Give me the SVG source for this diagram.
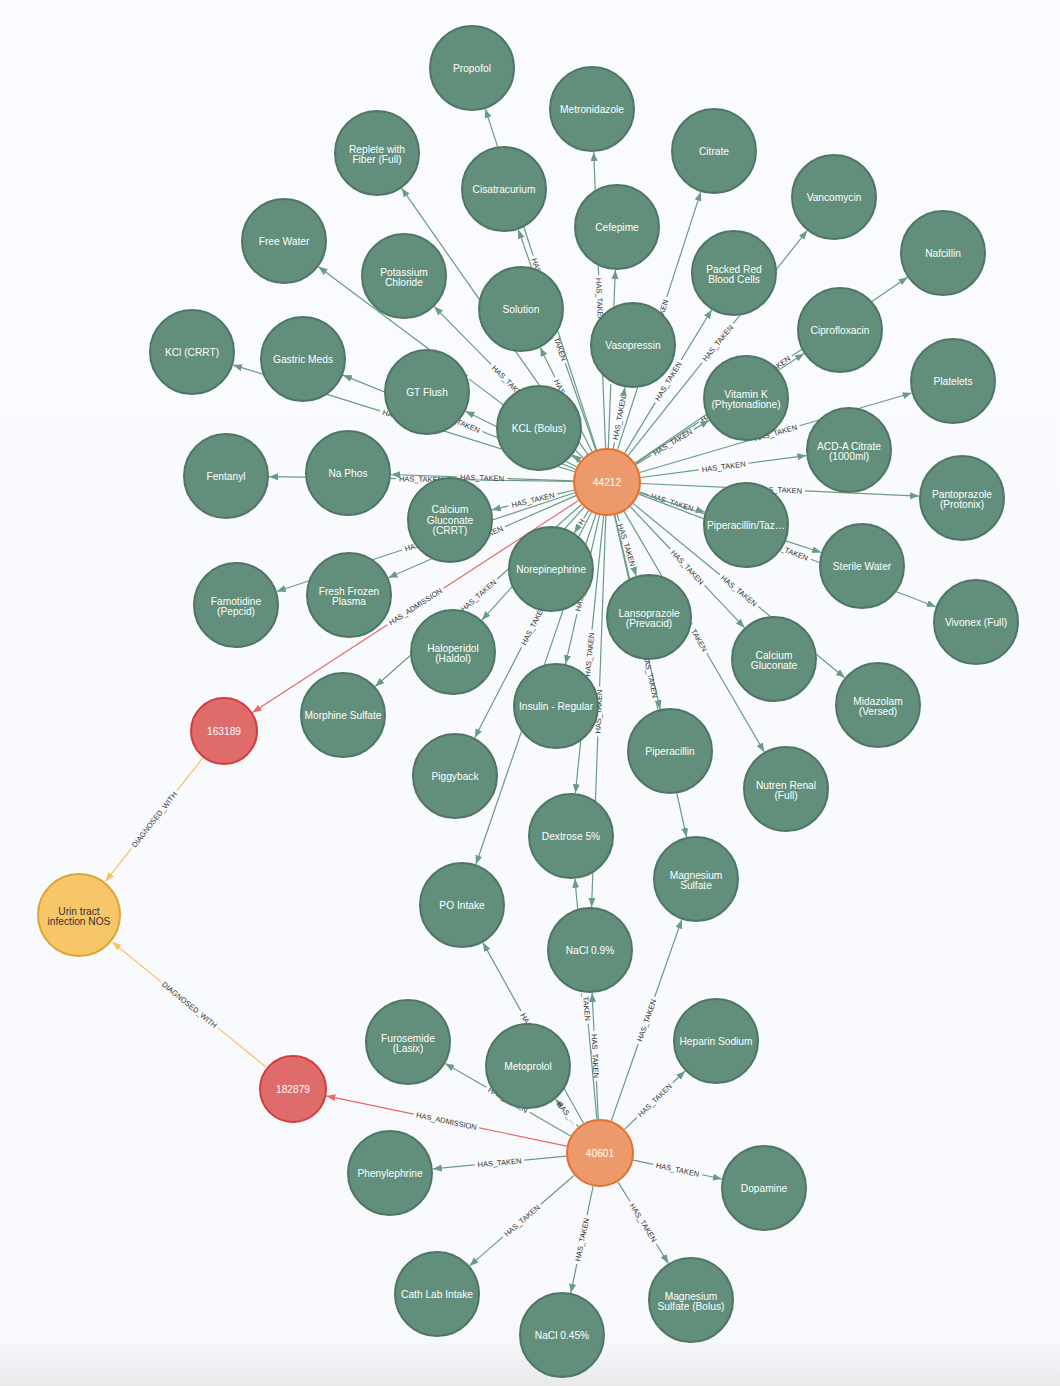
<svg xmlns="http://www.w3.org/2000/svg" width="1060" height="1386" viewBox="0 0 1060 1386">
<defs>
<linearGradient id="bg" x1="0" y1="0" x2="0" y2="1">
<stop offset="0" stop-color="#f9fbfe"/>
<stop offset="0.965" stop-color="#f8f9fc"/>
<stop offset="1" stop-color="#e8e9eb"/>
</linearGradient>
<marker id="ag" markerUnits="userSpaceOnUse" markerWidth="10" markerHeight="8" refX="9" refY="3.5" orient="auto"><path d="M0,0 L9,3.5 L0,7 z" fill="#6a9b87"/></marker>
<marker id="ar" markerUnits="userSpaceOnUse" markerWidth="10" markerHeight="8" refX="9" refY="3.5" orient="auto"><path d="M0,0 L9,3.5 L0,7 z" fill="#e56b6b"/></marker>
<marker id="ay" markerUnits="userSpaceOnUse" markerWidth="10" markerHeight="8" refX="9" refY="3.5" orient="auto"><path d="M0,0 L9,3.5 L0,7 z" fill="#f6c261"/></marker>
</defs>
<style>
.e line{stroke:#6a9b87;stroke-width:1.2;fill:none;marker-end:url(#ag)}
.e line.r{stroke:#e56b6b;marker-end:url(#ar)}
.e line.y{stroke:#f6c261;marker-end:url(#ay)}
.e text{font-family:"Liberation Sans",Arial,sans-serif;font-size:7.5px;fill:#333;text-anchor:middle}
.n circle{fill:#628f7c;stroke:#4e7566;stroke-width:2}
.n text{font-family:"Liberation Sans",Arial,sans-serif;font-size:10.2px;fill:#ffffff;text-anchor:middle}
.o circle{fill:#ec9a6b;stroke:#e1702f;stroke-width:2}
.rd circle{fill:#e06b6b;stroke:#d43c3c;stroke-width:2}
.yl circle{fill:#f7c668;stroke:#d9a735;stroke-width:2}
.yl text{fill:#333}
</style>
<rect x="0" y="0" width="1060" height="1386" fill="url(#bg)"/>
<g id="connectors" class="e">
<line x1="596.5" y1="449.7" x2="485.3" y2="108.9" stroke-dasharray="154.3 50 999"/><text transform="translate(540.9,279.3) rotate(71.9)" y="2.7">HAS_TAKEN</text>
<line x1="605.6" y1="448.0" x2="593.7" y2="152.0" stroke-dasharray="123.2 50 999"/><text transform="translate(599.7,300.0) rotate(87.7)" y="2.7">HAS_TAKEN</text>
<line x1="617.5" y1="449.6" x2="700.8" y2="191.9" stroke-dasharray="110.5 50 999"/><text transform="translate(659.1,320.8) rotate(-72.1)" y="2.7">HAS_TAKEN</text>
<line x1="628.2" y1="455.4" x2="807.2" y2="230.6" stroke-dasharray="118.7 50 999"/><text transform="translate(717.7,343.0) rotate(-51.5)" y="2.7">HAS_TAKEN</text>
<line x1="635.1" y1="462.9" x2="907.5" y2="277.2" stroke-dasharray="139.8 50 999"/><text transform="translate(771.3,370.0) rotate(-34.3)" y="2.7">HAS_TAKEN</text>
<line x1="587.5" y1="454.1" x2="401.6" y2="188.2" stroke-dasharray="137.2 50 999"/><text transform="translate(494.6,321.2) rotate(55.0)" y="2.7">HAS_TAKEN</text>
<line x1="595.7" y1="449.9" x2="518.3" y2="229.6" stroke-dasharray="91.8 50 999"/><text transform="translate(557.0,339.8) rotate(70.6)" y="2.7">HAS_TAKEN</text>
<line x1="608.3" y1="448.0" x2="615.3" y2="270.0" stroke-dasharray="64.1 50 999"/><text transform="translate(611.8,359.0) rotate(-87.8)" y="2.7">HAS_TAKEN</text>
<line x1="624.7" y1="452.9" x2="711.7" y2="309.7" stroke-dasharray="58.8 50 999"/><text transform="translate(668.2,381.3) rotate(-58.7)" y="2.7">HAS_TAKEN</text>
<line x1="579.7" y1="461.7" x2="318.5" y2="266.7" stroke-dasharray="138 50 999"/><text transform="translate(449.1,364.2) rotate(36.7)" y="2.7">HAS_TAKEN</text>
<line x1="583.1" y1="457.8" x2="434.2" y2="306.6" stroke-dasharray="81.1 50 999"/><text transform="translate(508.7,382.2) rotate(45.4)" y="2.7">HAS_TAKEN</text>
<line x1="591.9" y1="451.6" x2="540.1" y2="347.5" stroke-dasharray="33.1 50 999"/><text transform="translate(566.0,399.6) rotate(63.6)" y="2.7">HAS_TAKEN</text>
<line x1="613.3" y1="448.6" x2="625.0" y2="387.3" stroke-dasharray="6.2 50 999"/><text transform="translate(619.2,418.0) rotate(-79.3)" y="2.7">HAS_TAKEN</text>
<line x1="635.5" y1="463.4" x2="804.0" y2="353.5" stroke-dasharray="75.6 50 999"/><text transform="translate(719.8,408.5) rotate(-33.1)" y="2.7">HAS_TAKEN</text>
<line x1="639.6" y1="472.5" x2="911.7" y2="393.0" stroke-dasharray="116.7 50 999"/><text transform="translate(775.7,432.8) rotate(-16.3)" y="2.7">HAS_TAKEN</text>
<line x1="574.6" y1="471.8" x2="233.0" y2="364.9" stroke-dasharray="154 50 999"/><text transform="translate(403.8,418.4) rotate(17.4)" y="2.7">HAS_TAKEN</text>
<line x1="575.5" y1="469.2" x2="342.9" y2="375.1" stroke-dasharray="100.5 50 999"/><text transform="translate(459.2,422.2) rotate(22.0)" y="2.7">HAS_TAKEN</text>
<line x1="576.6" y1="466.8" x2="465.5" y2="411.2" stroke-dasharray="37.1 50 999"/><text transform="translate(521.0,439.0) rotate(26.6)" y="2.7">HAS_TAKEN</text>
<line x1="580.4" y1="460.8" x2="572.7" y2="454.8"/>
<line x1="636.1" y1="464.4" x2="709.2" y2="420.2" stroke-dasharray="17.7 50 999"/><text transform="translate(672.6,442.3) rotate(-31.1)" y="2.7">HAS_TAKEN</text>
<line x1="640.7" y1="477.5" x2="806.4" y2="455.6" stroke-dasharray="58.6 50 999"/><text transform="translate(723.6,466.6) rotate(-7.5)" y="2.7">HAS_TAKEN</text>
<line x1="641.0" y1="483.5" x2="919.0" y2="496.1" stroke-dasharray="114.2 50 999"/><text transform="translate(780.0,489.8) rotate(2.6)" y="2.7">HAS_TAKEN</text>
<line x1="573.0" y1="481.5" x2="269.0" y2="476.7" stroke-dasharray="127.0 50 999"/><text transform="translate(421.0,479.1) rotate(0.9)" y="2.7">HAS_TAKEN</text>
<line x1="573.0" y1="480.8" x2="391.0" y2="474.5" stroke-dasharray="66.1 50 999"/><text transform="translate(482.0,477.7) rotate(2.0)" y="2.7">HAS_TAKEN</text>
<line x1="574.0" y1="490.0" x2="491.8" y2="509.9" stroke-dasharray="17.3 50 999"/><text transform="translate(532.9,500.0) rotate(-13.6)" y="2.7">HAS_TAKEN</text>
<line x1="639.5" y1="492.0" x2="704.9" y2="512.3" stroke-dasharray="9.3 50 999"/><text transform="translate(672.2,502.2) rotate(17.2)" y="2.7">HAS_TAKEN</text>
<line x1="639.3" y1="492.6" x2="821.2" y2="552.5" stroke-dasharray="70.8 50 999"/><text transform="translate(730.2,522.6) rotate(18.2)" y="2.7">HAS_TAKEN</text>
<line x1="638.8" y1="494.1" x2="935.8" y2="606.7" stroke-dasharray="133.9 50 999"/><text transform="translate(787.3,550.4) rotate(20.8)" y="2.7">HAS_TAKEN</text>
<line x1="588.6" y1="510.6" x2="574.3" y2="532.9" stroke-dasharray="9.3 8 99"/><text transform="translate(581.5,521.8) rotate(-57.2)" y="2.7">H</text>
<line x1="574.7" y1="492.7" x2="276.8" y2="591.5" stroke-dasharray="132 50 999"/><text transform="translate(425.8,542.1) rotate(-18.3)" y="2.7">HAS_TAKEN</text>
<line x1="575.9" y1="495.6" x2="388.4" y2="577.8" stroke-dasharray="77.4 50 999"/><text transform="translate(482.1,536.7) rotate(-23.6)" y="2.7">HAS_TAKEN</text>
<line x1="617.1" y1="514.5" x2="636.2" y2="575.9" stroke-dasharray="7.2 50 999"/><text transform="translate(626.7,545.2) rotate(72.7)" y="2.7">HAS_TAKEN</text>
<line x1="630.3" y1="506.7" x2="744.5" y2="627.7" stroke-dasharray="58.2 50 999"/><text transform="translate(687.4,567.2) rotate(46.7)" y="2.7">HAS_TAKEN</text>
<line x1="633.3" y1="503.6" x2="844.8" y2="677.7" stroke-dasharray="112 50 999"/><text transform="translate(739.0,590.7) rotate(39.4)" y="2.7">HAS_TAKEN</text>
<line x1="584.2" y1="507.2" x2="481.9" y2="620.1" stroke-dasharray="51.2 50 999"/><text transform="translate(533.0,563.6) rotate(-47.8)" y="2.7">HAS_TAKEN</text>
<line x1="581.5" y1="504.5" x2="375.2" y2="686.5" stroke-dasharray="112.6 50 999"/><text transform="translate(478.4,595.5) rotate(-41.4)" y="2.7">HAS_TAKEN</text>
<line x1="599.5" y1="515.2" x2="565.5" y2="664.1" stroke-dasharray="51.4 50 999"/><text transform="translate(582.5,589.6) rotate(-77.2)" y="2.7">HAS_TAKEN</text>
<line x1="614.8" y1="515.1" x2="660.2" y2="709.1" stroke-dasharray="74.7 50 999"/><text transform="translate(637.5,612.1) rotate(76.8)" y="2.7">HAS_TAKEN</text>
<line x1="624.1" y1="511.4" x2="764.3" y2="751.9" stroke-dasharray="114.2 50 999"/><text transform="translate(694.2,631.7) rotate(59.7)" y="2.7">HAS_TAKEN</text>
<line x1="591.4" y1="512.2" x2="474.7" y2="737.8" stroke-dasharray="102 50 999"/><text transform="translate(533.1,625.0) rotate(-62.7)" y="2.7">HAS_TAKEN</text>
<line x1="603.6" y1="515.8" x2="575.4" y2="793.2" stroke-dasharray="114.4 50 999"/><text transform="translate(589.5,654.5) rotate(-84.2)" y="2.7">HAS_TAKEN</text>
<line x1="614.4" y1="515.2" x2="686.6" y2="837.0" stroke-dasharray="140 50 999"/><text transform="translate(650.5,676.1) rotate(77.4)" y="2.7">HAS_TAKEN</text>
<line x1="596.0" y1="514.2" x2="475.9" y2="864.3" stroke-dasharray="160.1 50 999"/><text transform="translate(536.0,689.3) rotate(-71.1)" y="2.7">HAS_TAKEN</text>
<line x1="605.8" y1="516.0" x2="591.6" y2="907.0" stroke-dasharray="170.7 50 999"/><text transform="translate(598.7,711.5) rotate(-87.9)" y="2.7">HAS_TAKEN</text>
<line class="r" x1="578.5" y1="500.5" x2="252.5" y2="712.5" stroke-dasharray="160.9 67 999"/><text transform="translate(415.5,606.5) rotate(-33.0)" y="2.7">HAS_ADMISSION</text>
<line x1="570.6" y1="1136.0" x2="445.2" y2="1063.5" stroke-dasharray="47.4 50 999"/><text transform="translate(507.9,1099.8) rotate(30.0)" y="2.7">HAS_TAKEN</text>
<line x1="578.3" y1="1126.8" x2="555.4" y2="1099.1" stroke-dasharray="3 30 99"/><text transform="translate(566.9,1113.0) rotate(50.4)" y="2.7">HAS_…</text>
<line x1="583.5" y1="1123.3" x2="482.9" y2="942.6" stroke-dasharray="78.4 50 999"/><text transform="translate(533.2,1033.0) rotate(60.9)" y="2.7">HAS_TAKEN</text>
<line x1="598.3" y1="1119.0" x2="592.1" y2="993.0" stroke-dasharray="38.1 50 999"/><text transform="translate(595.2,1056.0) rotate(87.2)" y="2.7">HAS_TAKEN</text>
<line x1="596.9" y1="1119.1" x2="574.9" y2="878.8" stroke-dasharray="95.7 50 999"/><text transform="translate(585.9,999.0) rotate(84.8)" y="2.7">HAS_TAKEN</text>
<line x1="611.2" y1="1121.1" x2="681.8" y2="919.6" stroke-dasharray="81.7 50 999"/><text transform="translate(646.5,1020.4) rotate(-70.7)" y="2.7">HAS_TAKEN</text>
<line x1="624.5" y1="1129.4" x2="685.1" y2="1070.9" stroke-dasharray="17.1 50 999"/><text transform="translate(654.8,1100.2) rotate(-44.0)" y="2.7">HAS_TAKEN</text>
<line x1="633.3" y1="1160.1" x2="721.9" y2="1179.0" stroke-dasharray="20.4 50 999"/><text transform="translate(677.6,1169.6) rotate(12.0)" y="2.7">HAS_TAKEN</text>
<line x1="617.9" y1="1181.9" x2="668.4" y2="1263.4" stroke-dasharray="23 50 999"/><text transform="translate(643.2,1222.7) rotate(58.2)" y="2.7">HAS_TAKEN</text>
<line x1="593.1" y1="1186.3" x2="570.8" y2="1292.9" stroke-dasharray="29.5 50 999"/><text transform="translate(581.9,1239.6) rotate(-78.2)" y="2.7">HAS_TAKEN</text>
<line x1="574.3" y1="1175.2" x2="469.5" y2="1265.9" stroke-dasharray="44.3 50 999"/><text transform="translate(521.9,1220.6) rotate(-40.9)" y="2.7">HAS_TAKEN</text>
<line x1="566.2" y1="1156.2" x2="432.8" y2="1168.9" stroke-dasharray="42 50 999"/><text transform="translate(499.5,1162.6) rotate(-5.4)" y="2.7">HAS_TAKEN</text>
<line class="r" x1="566.7" y1="1146.1" x2="326.3" y2="1095.9" stroke-dasharray="89.3 67 999"/><text transform="translate(446.5,1121.0) rotate(11.8)" y="2.7">HAS_ADMISSION</text>
<line class="y" x1="203.0" y1="757.7" x2="105.6" y2="881.2" stroke-dasharray="41.7 74 999"/><text transform="translate(154.3,819.5) rotate(-51.8)" y="2.7">DIAGNOSED_WITH</text>
<line class="y" x1="266.6" y1="1067.5" x2="112.4" y2="942.1" stroke-dasharray="62.4 74 999"/><text transform="translate(189.5,1004.8) rotate(39.1)" y="2.7">DIAGNOSED_WITH</text>
</g>
<g id="nodes">
<g id="n-propofol" class="n"><circle cx="472" cy="68" r="42"/><text x="472" y="71.6">Propofol</text></g>
<g id="n-metronidazole" class="n"><circle cx="592" cy="109" r="42"/><text x="592" y="112.6">Metronidazole</text></g>
<g id="n-citrate" class="n"><circle cx="714" cy="151" r="42"/><text x="714" y="154.6">Citrate</text></g>
<g id="n-vancomycin" class="n"><circle cx="834" cy="197" r="42"/><text x="834" y="200.6">Vancomycin</text></g>
<g id="n-nafcillin" class="n"><circle cx="943" cy="253" r="42"/><text x="943" y="256.6">Nafcillin</text></g>
<g id="n-replete" class="n"><circle cx="377" cy="153" r="42"/><text x="377" y="152.8">Replete with</text><text x="377" y="163.3">Fiber (Full)</text></g>
<g id="n-cisatracurium" class="n"><circle cx="504" cy="189" r="42"/><text x="504" y="192.6">Cisatracurium</text></g>
<g id="n-cefepime" class="n"><circle cx="617" cy="227" r="42"/><text x="617" y="230.6">Cefepime</text></g>
<g id="n-prbc" class="n"><circle cx="734" cy="273" r="42"/><text x="734" y="272.8">Packed Red</text><text x="734" y="283.3">Blood Cells</text></g>
<g id="n-freewater" class="n"><circle cx="284" cy="241" r="42"/><text x="284" y="244.6">Free Water</text></g>
<g id="n-potassium" class="n"><circle cx="404" cy="276" r="42"/><text x="404" y="275.8">Potassium</text><text x="404" y="286.3">Chloride</text></g>
<g id="n-solution" class="n"><circle cx="521" cy="309" r="42"/><text x="521" y="312.6">Solution</text></g>
<g id="n-vasopressin" class="n"><circle cx="633" cy="345" r="42"/><text x="633" y="348.6">Vasopressin</text></g>
<g id="n-cipro" class="n"><circle cx="840" cy="330" r="42"/><text x="840" y="333.6">Ciprofloxacin</text></g>
<g id="n-platelets" class="n"><circle cx="953" cy="381" r="42"/><text x="953" y="384.6">Platelets</text></g>
<g id="n-kclcrrt" class="n"><circle cx="192" cy="352" r="42"/><text x="192" y="355.6">KCl (CRRT)</text></g>
<g id="n-gastric" class="n"><circle cx="303" cy="359" r="42"/><text x="303" y="362.6">Gastric Meds</text></g>
<g id="n-gtflush" class="n"><circle cx="427" cy="392" r="42"/><text x="427" y="395.6">GT Flush</text></g>
<g id="n-kclbolus" class="n"><circle cx="539" cy="428" r="42"/><text x="539" y="431.6">KCL (Bolus)</text></g>
<g id="n-vitk" class="n"><circle cx="746" cy="398" r="42"/><text x="746" y="397.8">Vitamin K</text><text x="746" y="408.3">(Phytonadione)</text></g>
<g id="n-acda" class="n"><circle cx="849" cy="450" r="42"/><text x="849" y="449.8">ACD-A Citrate</text><text x="849" y="460.3">(1000ml)</text></g>
<g id="n-pantoprazole" class="n"><circle cx="962" cy="498" r="42"/><text x="962" y="497.8">Pantoprazole</text><text x="962" y="508.3">(Protonix)</text></g>
<g id="n-fentanyl" class="n"><circle cx="226" cy="476" r="42"/><text x="226" y="479.6">Fentanyl</text></g>
<g id="n-naphos" class="n"><circle cx="348" cy="473" r="42"/><text x="348" y="476.6">Na Phos</text></g>
<g id="n-cagluccrrt" class="n"><circle cx="450" cy="520" r="42"/><text x="450" y="513.1">Calcium</text><text x="450" y="523.6">Gluconate</text><text x="450" y="534.1">(CRRT)</text></g>
<g id="n-piptaz" class="n"><circle cx="746" cy="525" r="42"/><text x="746" y="528.6">Piperacillin/Taz…</text></g>
<g id="n-sterile" class="n"><circle cx="862" cy="566" r="42"/><text x="862" y="569.6">Sterile Water</text></g>
<g id="n-vivonex" class="n"><circle cx="976" cy="622" r="42"/><text x="976" y="625.6">Vivonex (Full)</text></g>
<g id="n-norepinephrine" class="n"><circle cx="551" cy="569" r="42"/><text x="551" y="572.6">Norepinephrine</text></g>
<g id="n-famotidine" class="n"><circle cx="236" cy="605" r="42"/><text x="236" y="604.8">Famotidine</text><text x="236" y="615.3">(Pepcid)</text></g>
<g id="n-ffp" class="n"><circle cx="349" cy="595" r="42"/><text x="349" y="594.8">Fresh Frozen</text><text x="349" y="605.3">Plasma</text></g>
<g id="n-lansoprazole" class="n"><circle cx="649" cy="617" r="42"/><text x="649" y="616.8">Lansoprazole</text><text x="649" y="627.3">(Prevacid)</text></g>
<g id="n-cagluc" class="n"><circle cx="774" cy="659" r="42"/><text x="774" y="658.8">Calcium</text><text x="774" y="669.3">Gluconate</text></g>
<g id="n-midazolam" class="n"><circle cx="878" cy="705" r="42"/><text x="878" y="704.8">Midazolam</text><text x="878" y="715.3">(Versed)</text></g>
<g id="n-haloperidol" class="n"><circle cx="453" cy="652" r="42"/><text x="453" y="651.8">Haloperidol</text><text x="453" y="662.3">(Haldol)</text></g>
<g id="n-morphine" class="n"><circle cx="343" cy="715" r="42"/><text x="343" y="718.6">Morphine Sulfate</text></g>
<g id="n-insulin" class="n"><circle cx="556" cy="706" r="42"/><text x="556" y="709.6">Insulin - Regular</text></g>
<g id="n-piperacillin" class="n"><circle cx="670" cy="751" r="42"/><text x="670" y="754.6">Piperacillin</text></g>
<g id="n-nutren" class="n"><circle cx="786" cy="789" r="42"/><text x="786" y="788.8">Nutren Renal</text><text x="786" y="799.3">(Full)</text></g>
<g id="n-piggyback" class="n"><circle cx="455" cy="776" r="42"/><text x="455" y="779.6">Piggyback</text></g>
<g id="n-dextrose" class="n"><circle cx="571" cy="836" r="42"/><text x="571" y="839.6">Dextrose 5%</text></g>
<g id="n-mgso4" class="n"><circle cx="696" cy="879" r="42"/><text x="696" y="878.8">Magnesium</text><text x="696" y="889.3">Sulfate</text></g>
<g id="n-pointake" class="n"><circle cx="462" cy="905" r="42"/><text x="462" y="908.6">PO Intake</text></g>
<g id="n-nacl09" class="n"><circle cx="590" cy="950" r="42"/><text x="590" y="953.6">NaCl 0.9%</text></g>
<g id="n-furosemide" class="n"><circle cx="408" cy="1042" r="42"/><text x="408" y="1041.8">Furosemide</text><text x="408" y="1052.3">(Lasix)</text></g>
<g id="n-metoprolol" class="n"><circle cx="528" cy="1066" r="42"/><text x="528" y="1069.6">Metoprolol</text></g>
<g id="n-heparin" class="n"><circle cx="716" cy="1041" r="42"/><text x="716" y="1044.6">Heparin Sodium</text></g>
<g id="n-phenylephrine" class="n"><circle cx="390" cy="1173" r="42"/><text x="390" y="1176.6">Phenylephrine</text></g>
<g id="n-dopamine" class="n"><circle cx="764" cy="1188" r="42"/><text x="764" y="1191.6">Dopamine</text></g>
<g id="n-cathlab" class="n"><circle cx="437" cy="1294" r="42"/><text x="437" y="1297.6">Cath Lab Intake</text></g>
<g id="n-nacl045" class="n"><circle cx="562" cy="1335" r="42"/><text x="562" y="1338.6">NaCl 0.45%</text></g>
<g id="n-mgso4bolus" class="n"><circle cx="691" cy="1300" r="42"/><text x="691" y="1299.8">Magnesium</text><text x="691" y="1310.3">Sulfate (Bolus)</text></g>
<g id="n-44212" class="n o"><circle cx="607" cy="482" r="33"/><text x="607" y="485.6">44212</text></g>
<g id="n-40601" class="n o"><circle cx="600" cy="1153" r="33"/><text x="600" y="1156.6">40601</text></g>
<g id="n-163189" class="n rd"><circle cx="224" cy="731" r="33"/><text x="224" y="734.6">163189</text></g>
<g id="n-182879" class="n rd"><circle cx="293" cy="1089" r="33"/><text x="293" y="1092.6">182879</text></g>
<g id="n-uti" class="n yl"><circle cx="79" cy="915" r="41"/><text x="79" y="914.8">Urin tract</text><text x="79" y="925.3">infection NOS</text></g>
</g>
</svg>
